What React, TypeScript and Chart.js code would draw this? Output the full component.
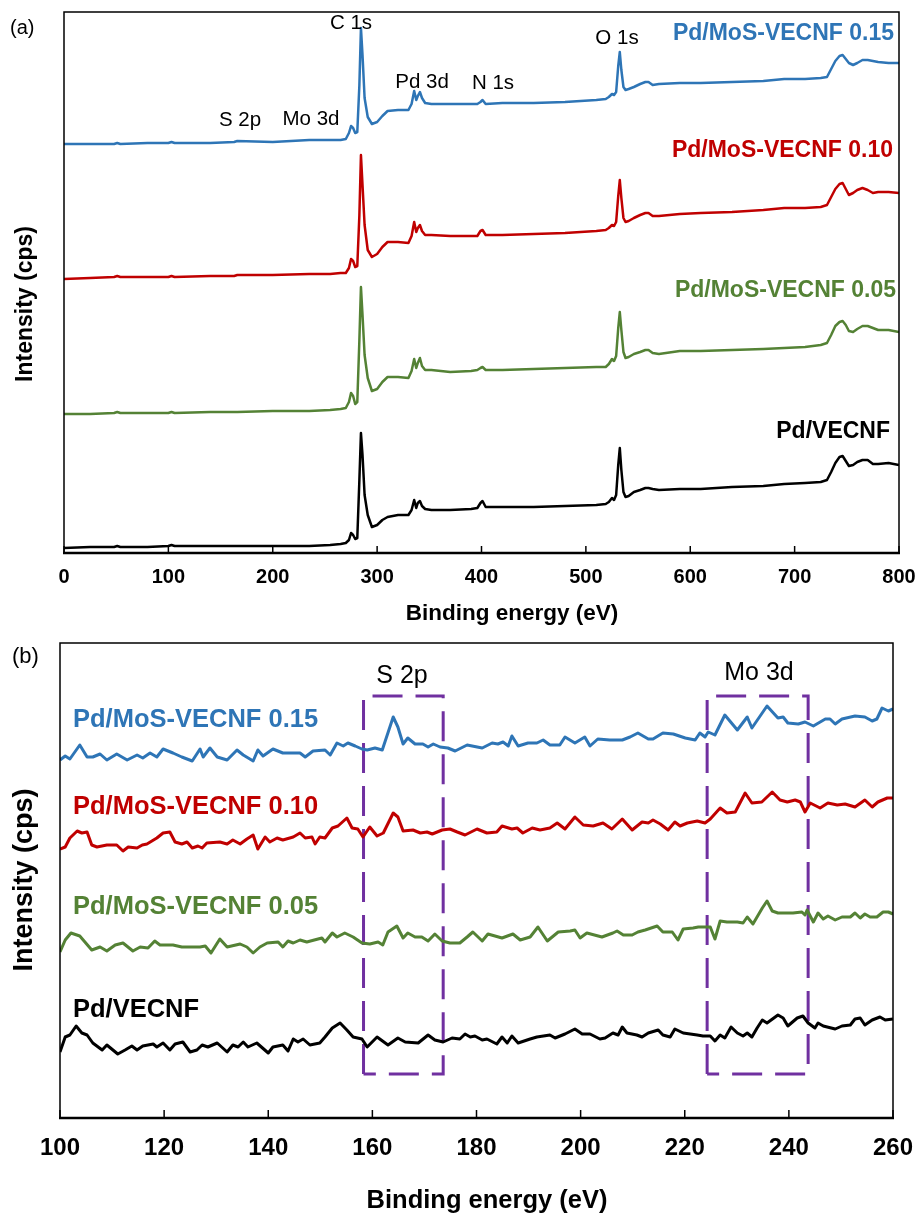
import React, { useEffect, useRef } from 'react';
import { Chart, registerables } from 'chart.js';

Chart.register(...registerables);

const FONT = "'Liberation Sans', Arial, Helvetica, sans-serif";

// ---------- Panel (a): survey spectra ----------
const surveyEnergy = [0, 25, 48, 51, 54, 80, 100, 103, 106, 140, 163, 166, 200, 235, 255, 265, 270, 273, 275, 277, 279, 281, 283, 284.5, 286, 288, 291, 295, 300, 305, 310, 320, 330, 333, 335.5, 337.5, 339, 341, 343, 346, 352, 370, 390, 396, 399, 401, 404, 420, 450, 480, 510, 519, 522, 525, 527, 529, 531, 532.5, 534, 536, 538, 541, 546, 552, 557, 560, 564, 570, 590, 610, 640, 670, 690, 710, 725, 731, 735, 739, 743, 746, 749, 752, 756, 760, 765, 770, 775, 780, 790, 800];
const survey015 = [409, 409, 409, 410, 409, 410, 410, 411, 410, 410, 411, 412, 411, 413, 413, 413, 414, 420, 427, 425, 420, 421, 468, 525, 498, 455, 436, 429, 431, 437, 442, 443, 443, 449, 462, 453, 457, 461, 455, 450, 449, 449, 449, 449, 451, 453, 449, 450, 450, 451, 453, 454, 456, 459, 458, 461, 487, 501, 483, 466, 463, 464, 466, 469, 471, 471, 468, 469, 470, 470, 471, 472, 474, 474, 475, 476, 484, 492, 497, 498, 494, 490, 488, 490, 493, 493, 492, 491, 490, 490];
const survey010 = [274, 275, 276, 277, 276, 276, 276, 277, 276, 277, 277, 278, 278, 279, 279, 280, 280, 285, 294, 292, 286, 287, 338, 398, 368, 328, 303, 296, 299, 306, 311, 311, 310, 317, 331, 321, 325, 328, 322, 318, 318, 317, 317, 317, 322, 323, 318, 318, 319, 320, 322, 323, 325, 328, 327, 331, 357, 373, 355, 335, 331, 332, 335, 338, 340, 340, 337, 337, 339, 340, 341, 343, 345, 345, 346, 348, 356, 364, 369, 370, 364, 358, 360, 363, 365, 363, 360, 361, 361, 360];
const survey005 = [139, 139, 140, 141, 140, 140, 140, 141, 140, 141, 141, 141, 142, 142, 143, 144, 145, 151, 160, 157, 149, 151, 213, 266, 238, 198, 175, 162, 164, 171, 176, 176, 175, 182, 194, 185, 190, 195, 187, 183, 183, 181, 182, 183, 185, 186, 183, 183, 184, 185, 186, 186, 189, 194, 192, 197, 225, 241, 223, 201, 195, 196, 199, 201, 203, 203, 200, 199, 202, 202, 203, 204, 205, 206, 208, 210, 218, 227, 231, 232, 228, 222, 221, 224, 227, 227, 225, 223, 223, 221];
const surveyPd = [5, 6, 6, 7, 6, 6, 7, 8, 7, 7, 7, 7, 7, 7, 8, 9, 10, 13, 20, 18, 14, 15, 73, 120, 98, 58, 38, 26, 28, 33, 36, 38, 38, 43, 53, 45, 50, 52, 47, 44, 43, 43, 44, 45, 50, 52, 46, 46, 46, 47, 48, 49, 51, 55, 53, 58, 88, 105, 83, 61, 56, 57, 61, 63, 65, 65, 64, 63, 64, 64, 66, 67, 69, 70, 71, 73, 81, 90, 96, 97, 92, 87, 88, 91, 93, 93, 89, 89, 90, 88];

// ---------- Panel (b): 100-260 eV region ----------
const b015Energy = [100, 101.0, 101.9, 103.8, 105.2, 106.3, 107.7, 109.0, 110.9, 112.9, 114.8, 115.9, 117.3, 118.6, 119.8, 121.7, 123.4, 125.4, 126.9, 127.5, 128.8, 130.2, 132.1, 134.0, 135.2, 137.1, 138.0, 139.0, 140.9, 142.8, 146.1, 147.1, 148.6, 150.9, 151.9, 153.2, 154.4, 155.3, 156.7, 158.0, 159.0, 160.5, 161.9, 164.0, 164.9, 165.9, 166.8, 168.2, 169.7, 170.7, 171.7, 173.0, 174.5, 175.9, 178.2, 181.1, 183.0, 184.1, 185.1, 186.1, 186.8, 188.0, 189.9, 191.6, 192.8, 194.1, 196.0, 197.0, 198.9, 200.8, 201.8, 203.3, 205.6, 208.0, 209.5, 211.0, 213.0, 213.9, 215.8, 217.8, 220.1, 222.0, 222.9, 223.9, 224.5, 225.8, 227.7, 230.1, 232.0, 232.9, 235.8, 237.9, 238.9, 239.8, 241.8, 243.1, 244.7, 247.0, 247.9, 248.9, 250.2, 252.7, 254.6, 256.0, 256.9, 257.9, 259.1, 260.0];
const b015Intensity = [358, 362, 359, 373, 361, 361, 364, 358, 364, 358, 363, 360, 365, 361, 369, 365, 361, 357, 369, 361, 370, 361, 358, 368, 363, 357, 368, 362, 369, 365, 365, 361, 367, 368, 363, 375, 372, 375, 372, 369, 368, 370, 368, 401, 391, 374, 380, 374, 374, 371, 374, 371, 370, 367, 373, 370, 375, 374, 376, 372, 382, 372, 375, 375, 378, 373, 373, 381, 375, 381, 372, 379, 378, 378, 381, 385, 379, 379, 385, 384, 380, 378, 385, 381, 386, 383, 403, 388, 401, 390, 412, 400, 401, 395, 394, 396, 392, 399, 399, 394, 399, 402, 401, 397, 399, 410, 407, 409];

const b010Energy = [100, 101.0, 101.9, 103.3, 104.2, 105.2, 106.1, 107.1, 109.0, 110.9, 112.1, 113.1, 114.8, 115.8, 116.7, 118.6, 119.8, 121.1, 122.1, 123.4, 124.4, 125.4, 126.5, 127.3, 128.2, 130.7, 132.1, 133.2, 134.6, 135.9, 137.1, 138.0, 139.4, 140.3, 141.7, 142.8, 144.8, 146.1, 147.1, 148.4, 149.0, 149.9, 150.9, 152.3, 153.4, 155.1, 156.1, 157.2, 158.2, 159.5, 160.9, 162.1, 164.0, 164.9, 165.9, 167.8, 169.2, 170.5, 171.5, 173.4, 174.9, 176.3, 177.8, 180.1, 182.0, 183.9, 184.9, 186.8, 187.8, 188.9, 190.7, 192.2, 194.1, 195.5, 197.0, 198.9, 200.5, 202.4, 204.3, 206.0, 208.0, 209.9, 211.8, 213.0, 213.9, 215.3, 216.8, 218.1, 219.1, 220.5, 222.4, 223.9, 224.9, 226.8, 228.1, 229.7, 231.6, 232.9, 234.8, 236.8, 238.3, 239.7, 241.2, 242.2, 243.1, 244.1, 246.0, 247.5, 249.3, 250.8, 252.7, 254.6, 256.0, 257.1, 258.9, 260.0];
const b010Intensity = [269, 271, 280, 287, 285, 286, 273, 271, 273, 273, 267, 271, 270, 273, 274, 280, 285, 286, 276, 274, 276, 270, 272, 270, 275, 276, 274, 278, 274, 279, 283, 269, 281, 276, 280, 278, 281, 285, 280, 281, 274, 281, 280, 290, 292, 300, 290, 289, 281, 291, 282, 285, 305, 301, 287, 288, 285, 286, 284, 288, 289, 286, 283, 289, 285, 286, 292, 289, 290, 285, 290, 288, 290, 295, 289, 301, 293, 292, 295, 289, 299, 288, 296, 295, 298, 294, 288, 296, 292, 295, 297, 295, 299, 310, 305, 306, 325, 315, 316, 326, 318, 316, 318, 316, 306, 315, 310, 315, 313, 314, 311, 318, 311, 316, 320, 320];

const b005Energy = [100, 101.0, 102.1, 103.8, 106.1, 107.7, 109.0, 110.6, 112.1, 114.0, 115.4, 116.9, 118.2, 119.2, 121.7, 123.4, 126.9, 127.9, 129.0, 130.7, 132.1, 134.6, 135.9, 137.1, 138.4, 139.8, 141.9, 142.8, 143.8, 144.8, 146.1, 147.4, 150.3, 150.9, 152.3, 153.2, 154.7, 156.3, 158.0, 159.5, 161.1, 162.0, 163.0, 164.7, 165.9, 166.8, 168.2, 169.5, 170.7, 172.0, 173.4, 174.9, 176.8, 178.2, 179.3, 181.1, 182.2, 184.9, 187.0, 188.4, 190.3, 191.8, 193.6, 195.7, 198.0, 198.9, 199.9, 201.2, 204.1, 206.2, 207.0, 208.2, 209.9, 211.0, 212.4, 214.7, 215.8, 217.6, 218.7, 219.7, 221.6, 222.6, 223.9, 224.9, 225.8, 226.8, 228.1, 230.1, 231.2, 232.0, 233.1, 234.9, 235.8, 236.8, 237.9, 239.7, 240.8, 242.5, 243.1, 243.5, 244.7, 245.6, 246.6, 247.5, 248.9, 250.2, 251.8, 252.7, 253.7, 254.6, 255.6, 256.9, 258.1, 259.1, 260.0];
const b005Intensity = [166, 178, 185, 182, 168, 171, 167, 173, 175, 167, 171, 170, 177, 173, 173, 171, 171, 172, 165, 179, 171, 174, 171, 165, 171, 175, 176, 171, 177, 175, 178, 176, 180, 176, 185, 181, 185, 181, 175, 174, 176, 173, 186, 192, 180, 185, 181, 181, 177, 184, 177, 175, 175, 181, 186, 177, 184, 180, 184, 178, 181, 191, 177, 186, 187, 188, 180, 185, 181, 185, 187, 183, 183, 186, 188, 192, 186, 186, 178, 189, 190, 191, 191, 191, 179, 197, 196, 196, 195, 201, 194, 210, 217, 207, 205, 205, 205, 206, 203, 208, 196, 205, 199, 202, 198, 201, 201, 205, 200, 204, 201, 201, 206, 206, 204];

const bPdEnergy = [100, 101.0, 101.9, 103.1, 104.2, 105.2, 106.3, 108.1, 109.0, 111.1, 112.5, 113.8, 114.8, 115.9, 117.9, 118.6, 119.8, 121.1, 122.1, 123.6, 125.0, 126.3, 127.3, 128.4, 130.2, 132.1, 133.2, 134.2, 135.2, 136.1, 137.8, 140.0, 140.9, 142.8, 143.8, 144.8, 145.7, 146.7, 148.0, 149.9, 150.9, 152.3, 153.8, 155.1, 156.3, 158.0, 159.0, 160.9, 163.0, 164.9, 166.3, 168.8, 170.7, 172.0, 173.6, 175.3, 176.8, 177.8, 178.8, 179.7, 181.1, 182.0, 183.9, 184.9, 185.9, 186.8, 188.0, 190.3, 191.6, 194.1, 195.1, 197.0, 198.9, 200.3, 201.8, 203.7, 204.7, 206.2, 207.2, 208.0, 208.9, 210.8, 211.8, 213.0, 214.9, 215.8, 217.2, 218.1, 219.7, 222.4, 223.5, 224.9, 225.8, 226.8, 227.7, 228.9, 230.1, 231.2, 232.0, 232.9, 233.9, 234.9, 235.8, 237.9, 238.9, 239.8, 241.6, 242.7, 243.7, 245.0, 245.6, 246.6, 248.9, 250.2, 251.8, 252.7, 253.7, 254.6, 256.0, 257.5, 258.5, 260.0];
const bPdIntensity = [66, 81, 83, 92, 85, 83, 75, 68, 73, 64, 68, 72, 68, 72, 74, 71, 75, 68, 74, 76, 66, 68, 73, 71, 75, 66, 73, 71, 76, 71, 75, 65, 71, 73, 67, 79, 76, 79, 73, 75, 81, 90, 95, 88, 81, 79, 71, 81, 73, 80, 76, 75, 83, 78, 76, 80, 79, 84, 81, 82, 78, 79, 74, 81, 75, 82, 75, 79, 81, 83, 80, 84, 89, 84, 84, 79, 80, 85, 83, 91, 85, 83, 81, 85, 88, 83, 81, 89, 85, 83, 82, 82, 77, 83, 80, 91, 85, 82, 85, 81, 90, 98, 95, 103, 100, 92, 100, 102, 95, 90, 95, 92, 89, 92, 93, 99, 100, 93, 98, 101, 98, 99];

// dashed highlight boxes (energy, intensity)
const sBoxEnergy = [158.3, 158.3, 173.6, 173.6, 158.3];
const sBoxIntensity = [44, 422, 422, 44, 44];
const moBoxEnergy = [224.3, 224.3, 243.7, 243.7, 224.3];
const moBoxIntensity = [44, 422, 422, 44, 44];

const seriesNames = ['Pd/MoS-VECNF 0.15', 'Pd/MoS-VECNF 0.10', 'Pd/MoS-VECNF 0.05', 'Pd/VECNF'];
const seriesColors = ['#2E75B6', '#C00000', '#548235', '#000000'];

const pts = (xs: number[], ys: number[]) => xs.map((x, i) => ({ x, y: ys[i] }));

type TextSpec = {
  text: string; x: number; y: number; size: number; bold?: boolean;
  color?: string; align?: CanvasTextAlign; rotate?: boolean;
};

function decorPlugin(id: string, texts: TextSpec[], tickLen: number) {
  return {
    id,
    afterDraw(chart: any) {
      const { ctx, chartArea: a, scales } = chart;
      ctx.save();
      ctx.strokeStyle = '#000';
      ctx.lineWidth = 1.5;
      ctx.strokeRect(a.left, a.top, a.right - a.left, a.bottom - a.top);
      ctx.lineWidth = 2.5;
      ctx.beginPath();
      ctx.moveTo(a.left - 1, a.bottom);
      ctx.lineTo(a.right + 1, a.bottom);
      ctx.stroke();
      ctx.lineWidth = 1.5;
      const xs = scales.x;
      xs.ticks.forEach((t: any) => {
        const px = xs.getPixelForValue(t.value);
        ctx.beginPath();
        ctx.moveTo(px, a.bottom);
        ctx.lineTo(px, a.bottom - tickLen);
        ctx.stroke();
      });
      texts.forEach((s) => {
        ctx.save();
        ctx.font = `${s.bold ? 'bold ' : ''}${s.size}px ${FONT}`;
        ctx.fillStyle = s.color || '#000';
        ctx.textAlign = s.align || 'left';
        ctx.textBaseline = 'alphabetic';
        if (s.rotate) {
          ctx.translate(s.x, s.y);
          ctx.rotate(-Math.PI / 2);
          ctx.fillText(s.text, 0, 0);
        } else {
          ctx.fillText(s.text, s.x, s.y);
        }
        ctx.restore();
      });
      ctx.restore();
    },
  };
}

function xScale(min: number, max: number, step: number, size: number, pad: number, height: number) {
  return {
    type: 'linear',
    min,
    max,
    ticks: {
      stepSize: step,
      autoSkip: false,
      maxRotation: 0,
      padding: pad,
      color: '#000',
      font: { family: FONT, size, weight: 'bold' },
    },
    grid: { display: false, drawTicks: false },
    border: { display: false },
    afterFit: (s: any) => {
      s.height = height;
      s.paddingLeft = 0;
      s.paddingRight = 0;
    },
  };
}

const lineDs = (data: any[], color: string, width: number) => ({
  data,
  borderColor: color,
  backgroundColor: color,
  borderWidth: width,
  pointRadius: 0,
  fill: false,
  tension: 0,
  borderJoinStyle: 'round',
});

export default function App() {
  const refA = useRef<HTMLCanvasElement>(null);
  const refB = useRef<HTMLCanvasElement>(null);

  useEffect(() => {
    const surveySeries = [survey015, survey010, survey005, surveyPd];
    const textsA: TextSpec[] = [
      { text: '(a)', x: 10, y: 34, size: 20 },
      { text: 'C 1s', x: 351, y: 29, size: 20.5, align: 'center' },
      { text: 'Pd 3d', x: 422, y: 88, size: 20.5, align: 'center' },
      { text: 'S 2p', x: 240, y: 126, size: 20.5, align: 'center' },
      { text: 'Mo 3d', x: 311, y: 125, size: 20.5, align: 'center' },
      { text: 'N 1s', x: 493, y: 89, size: 20.5, align: 'center' },
      { text: 'O 1s', x: 617, y: 44, size: 20.5, align: 'center' },
      { text: seriesNames[0], x: 894, y: 40, size: 23, bold: true, color: seriesColors[0], align: 'right' },
      { text: seriesNames[1], x: 893, y: 157, size: 23, bold: true, color: seriesColors[1], align: 'right' },
      { text: seriesNames[2], x: 896, y: 297, size: 23, bold: true, color: seriesColors[2], align: 'right' },
      { text: seriesNames[3], x: 890, y: 438, size: 23, bold: true, color: seriesColors[3], align: 'right' },
      { text: 'Intensity (cps)', x: 32, y: 304, size: 23, bold: true, align: 'center', rotate: true },
      { text: 'Binding energy (eV)', x: 512, y: 620, size: 22.5, bold: true, align: 'center' },
    ];
    const chartA = new Chart(refA.current as HTMLCanvasElement, {
      type: 'line',
      data: {
        datasets: surveySeries.map((ys, i) => lineDs(pts(surveyEnergy, ys), seriesColors[i], 2.5)) as any,
      },
      options: {
        responsive: false,
        animation: false,
        layout: { padding: { left: 64, right: 18, top: 12, bottom: 0 } },
        scales: {
          x: xScale(0, 800, 100, 20, 12, 72) as any,
          y: { type: 'linear', min: 0, max: 541, display: false },
        },
        plugins: { legend: { display: false }, tooltip: { enabled: false } },
      },
      plugins: [decorPlugin('decorA', textsA, 7)],
    });

    const textsB: TextSpec[] = [
      { text: '(b)', x: 12, y: 38, size: 22 },
      { text: 'S 2p', x: 402, y: 58, size: 25, align: 'center' },
      { text: 'Mo 3d', x: 759, y: 55, size: 25, align: 'center' },
      { text: seriesNames[0], x: 73, y: 102, size: 25.5, bold: true, color: seriesColors[0] },
      { text: seriesNames[1], x: 73, y: 189, size: 25.5, bold: true, color: seriesColors[1] },
      { text: seriesNames[2], x: 73, y: 289, size: 25.5, bold: true, color: seriesColors[2] },
      { text: seriesNames[3], x: 73, y: 392, size: 25.5, bold: true, color: seriesColors[3] },
      { text: 'Intensity (cps)', x: 32, y: 255, size: 27, bold: true, align: 'center', rotate: true },
      { text: 'Binding energy (eV)', x: 487, y: 583, size: 25.5, bold: true, align: 'center' },
    ];
    const boxDs = (xs: number[], ys: number[]) => ({
      ...lineDs(pts(xs, ys), '#7030A0', 3),
      borderDash: [30, 13],
      borderCapStyle: 'butt',
      borderJoinStyle: 'miter',
    });
    const chartB = new Chart(refB.current as HTMLCanvasElement, {
      type: 'line',
      data: {
        datasets: [
          lineDs(pts(b015Energy, b015Intensity), seriesColors[0], 3),
          lineDs(pts(b010Energy, b010Intensity), seriesColors[1], 3),
          lineDs(pts(b005Energy, b005Intensity), seriesColors[2], 3),
          lineDs(pts(bPdEnergy, bPdIntensity), seriesColors[3], 3),
          boxDs(sBoxEnergy, sBoxIntensity),
          boxDs(moBoxEnergy, moBoxIntensity),
        ] as any,
      },
      options: {
        responsive: false,
        animation: false,
        layout: { padding: { left: 60, right: 24, top: 18, bottom: 0 } },
        scales: {
          x: xScale(100, 260, 20, 24, 16, 95) as any,
          y: { type: 'linear', min: 0, max: 475, display: false },
        },
        plugins: { legend: { display: false }, tooltip: { enabled: false } },
      },
      plugins: [decorPlugin('decorB', textsB, 8)],
    });

    return () => {
      chartA.destroy();
      chartB.destroy();
    };
  }, []);

  return (
    <div style={{ position: 'absolute', left: 0, top: 0, width: 917, height: 1213, background: '#fff' }}>
      <canvas ref={refA} width={917} height={625} style={{ position: 'absolute', left: 0, top: 0, width: 917, height: 625 }} />
      <canvas ref={refB} width={917} height={588} style={{ position: 'absolute', left: 0, top: 625, width: 917, height: 588 }} />
    </div>
  );
}
